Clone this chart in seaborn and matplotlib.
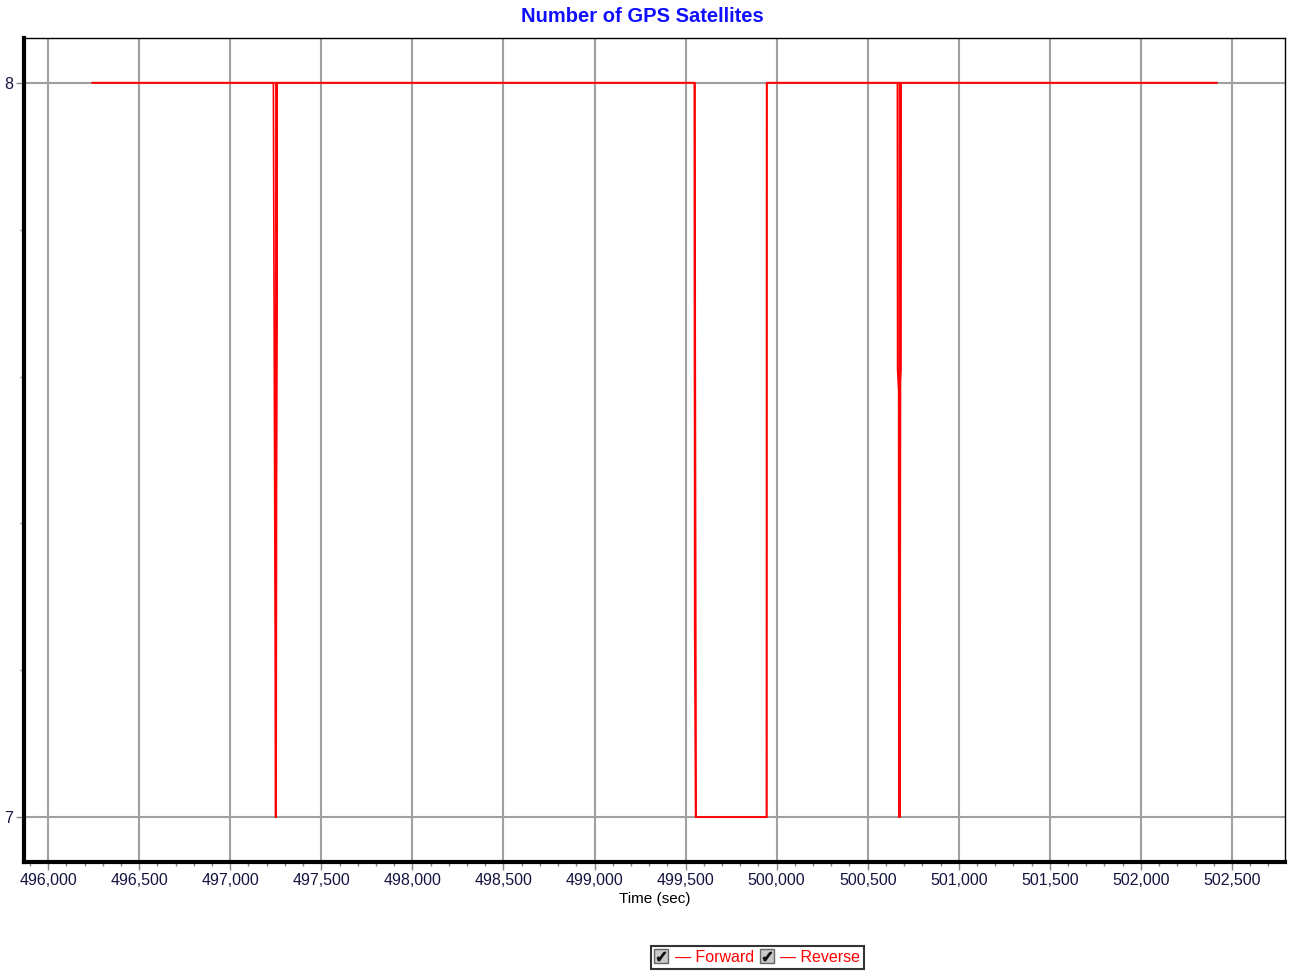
import pandas as pd
import seaborn as sns
import matplotlib.pyplot as plt
from matplotlib.lines import Line2D
from matplotlib.ticker import MultipleLocator, FuncFormatter

# GPS satellite count vs time, forward and reverse passes
fwd_time = [496241, 497237, 497238, 497248, 497249, 497250, 497251,
            499548, 499549, 499550, 499555, 499944, 499945,
            500663, 500664, 500670, 500671, 500673, 500674, 502418]
fwd_sats = [8, 8, 7.915, 7.15, 7, 7, 8,
            8, 7.66, 7.26, 7, 7, 8,
            8, 7.61, 7.58, 7, 7, 8, 8]

rev_time = [496241, 497255, 497256, 497250, 497250, 497252, 497257,
            499552, 499553, 499556, 499558, 499946, 499947,
            500680, 500681, 500676, 500675, 500677, 500682, 502418]
rev_sats = [8, 8, 7.915, 7.15, 7, 7, 8,
            8, 7.66, 7.26, 7, 7, 8,
            8, 7.61, 7.58, 7, 7, 8, 8]

series_names = ["Forward", "Reverse"]
title = "Number of GPS Satellites"
xlabel = "Time (sec)"

df = pd.concat([
    pd.DataFrame({"time": fwd_time, "sats": fwd_sats, "pass": series_names[0]}),
    pd.DataFrame({"time": rev_time, "sats": rev_sats, "pass": series_names[1]}),
], ignore_index=True)

sns.set_style("white")
plt.rcParams["font.family"] = ["Liberation Sans", "DejaVu Sans"]

fig = plt.figure(figsize=(12.93, 9.73), dpi=100)
ax = fig.add_axes([0.0186, 0.1141, 0.9752, 0.8469])

sns.lineplot(data=df, x="time", y="sats", hue="pass", units="pass",
             estimator=None, sort=False, palette=["#ff0000", "#ff0000"],
             linewidth=1.2, legend=False, ax=ax)

ax.set_xlim(495868, 502791)
ax.set_ylim(6.939, 8.061)
ax.xaxis.set_major_locator(MultipleLocator(500))
ax.xaxis.set_minor_locator(MultipleLocator(100))
ax.yaxis.set_major_locator(MultipleLocator(1))
ax.yaxis.set_minor_locator(MultipleLocator(0.2))
ax.xaxis.set_major_formatter(FuncFormatter(lambda v, p: f"{int(v):,}"))
ax.yaxis.set_major_formatter(FuncFormatter(lambda v, p: f"{int(v)}"))

ax.grid(which="major", color="#a0a0a0", linewidth=1.5)
ax.set_axisbelow(True)
ax.tick_params(which="major", length=6, width=1, color="#888888",
               labelsize=11.5, labelcolor="#141440", pad=2)
ax.tick_params(which="minor", length=3, width=1, color="#888888")
ax.tick_params(axis="x", which="both", bottom=True)
ax.tick_params(axis="y", which="both", left=True)

for side in ["top", "right"]:
    ax.spines[side].set_color("black")
    ax.spines[side].set_linewidth(1)
for side in ["left", "bottom"]:
    ax.spines[side].set_color("black")
    ax.spines[side].set_linewidth(3)

ax.set_xlabel(xlabel, fontsize=11, color="black", labelpad=3)
ax.set_ylabel("")
fig.text(0.4965, 0.983, title, ha="center", va="center", fontsize=14.5,
         fontweight="bold", color="#1010ff")

handles = []
for _ in series_names:
    box = Line2D([], [], marker="s", markersize=10, markerfacecolor="#c8c8c8",
                 markeredgecolor="#666666", linestyle="none")
    tick = Line2D([], [], marker="$\u2713$", markersize=6, color="#111111",
                  linestyle="none")
    handles.append((box, tick))
leg = fig.legend(handles, ["\u2014 " + s for s in series_names], loc="center",
                 bbox_to_anchor=(0.586, 0.0164), ncol=2, frameon=True,
                 fancybox=False, edgecolor="black", fontsize=11.5,
                 handlelength=0.8, handletextpad=0.45, columnspacing=0.4,
                 borderpad=0.25)
leg.get_frame().set_linewidth(1.5)
for t in leg.get_texts():
    t.set_color("#ff0000")

fig.savefig("out.png", dpi=100)
